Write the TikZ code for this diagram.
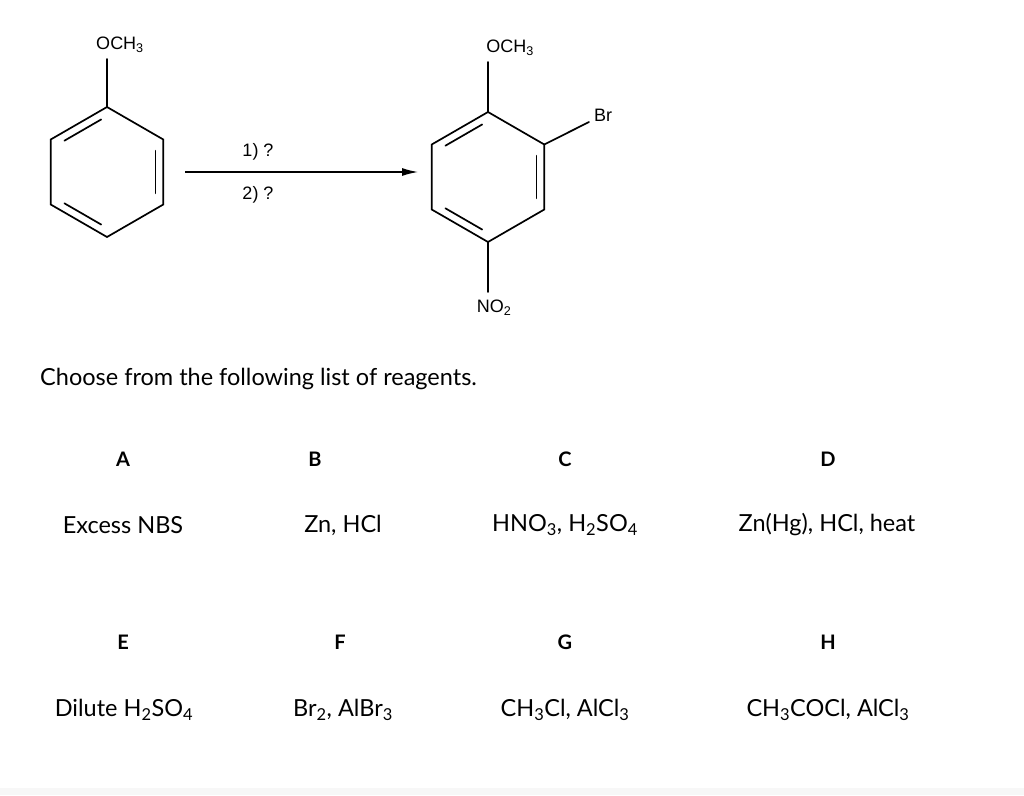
\documentclass[tikz,border=0pt]{standalone}
\usepackage{fontspec}
\usetikzlibrary{calc,arrows.meta}
\setmainfont{Lato}
\newfontfamily\arial{Liberation Sans}
\newcommand{\sbs}[1]{\textsubscript{#1}}
\begin{document}
\begin{tikzpicture}[x=1pt,y=-1pt,
  bond/.style={line width=1.7pt,line cap=round},
  chem/.style={font=\arial\fontsize{18}{20}\selectfont,inner sep=1pt},
  lett/.style={font=\bfseries\fontsize{20}{24}\selectfont},
  reag/.style={font=\fontsize{23.5}{26}\selectfont}]
\useasboundingbox (0,0) rectangle (1024,795);
\fill[white] (0,0) rectangle (1024,795);
\fill[gray!6] (0,788) rectangle (1024,795);
% rings
\foreach \cx/\cy/\nm in {107/172/L,488/177/R}{
  \foreach \i in {0,...,5}{
    \coordinate (\nm\i) at ({\cx+65*cos(90+60*\i)},{\cy-65*sin(90+60*\i)});
  }
  \draw[bond] (\nm0)--(\nm1)--(\nm2)--(\nm3)--(\nm4)--(\nm5)--cycle;
  \coordinate (\nm c) at (\cx,\cy);
  \draw[bond] ($(\nm0)!0.12!(\nm1)!0.14!(\nm c)$) -- ($(\nm1)!0.12!(\nm0)!0.14!(\nm c)$);
  \draw[bond] ($(\nm2)!0.12!(\nm3)!0.14!(\nm c)$) -- ($(\nm3)!0.12!(\nm2)!0.14!(\nm c)$);
  \draw[bond] ($(\nm4)!0.12!(\nm5)!0.14!(\nm c)$) -- ($(\nm5)!0.12!(\nm4)!0.14!(\nm c)$);
}
\node[chem] (o1) at (120,45) {OCH\sbs{3}};
\draw[bond] (107,59) -- (L0);
\node[chem] (o2) at (510,48) {OCH\sbs{3}};
\draw[bond] (488,62) -- (R0);
\node[chem] (br) at (603,115) {Br};
\draw[bond] (R5) -- (589,122);
\node[chem] (no) at (494,308) {NO\sbs{2}};
\draw[bond] (R3) -- (488,292);
\coordinate (a1) at (185,172);
\coordinate (a2) at (418,172);
\draw[line width=1.3pt,-{Latex[length=16pt,width=8pt]}] (a1) -- (a2);
\node[chem] (s1) at (258,152) {1) ?};
\node[chem] (s2) at (258,195) {2) ?};
% text
\node[reag,anchor=west,inner sep=0pt] (ch) at (40,379) {Choose from the following list of reagents.};
\node[lett] (A) at (123,459) {A};
\node[lett] (B) at (315,459) {B};
\node[lett] (C) at (565,459) {C};
\node[lett] (D) at (828,459) {D};
\node[reag] (ra) at (123,525) {Excess NBS};
\node[reag] (rb) at (343,525) {Zn, HCl};
\node[reag] (rc) at (565,525) {HNO\sbs{3}, H\sbs{2}SO\sbs{4}};
\node[reag] (rd) at (827,525) {Zn(Hg), HCl, heat};
\node[lett] (E) at (123,642) {E};
\node[lett] (F) at (340,642) {F};
\node[lett] (G) at (565,642) {G};
\node[lett] (H) at (828,642) {H};
\node[reag] (re) at (124,710) {Dilute H\sbs{2}SO\sbs{4}};
\node[reag] (rf) at (343,710) {Br\sbs{2}, AlBr\sbs{3}};
\node[reag] (rg) at (565,710) {CH\sbs{3}Cl, AlCl\sbs{3}};
\node[reag] (rh) at (828,710) {CH\sbs{3}COCl, AlCl\sbs{3}};
\end{tikzpicture}
\end{document}
